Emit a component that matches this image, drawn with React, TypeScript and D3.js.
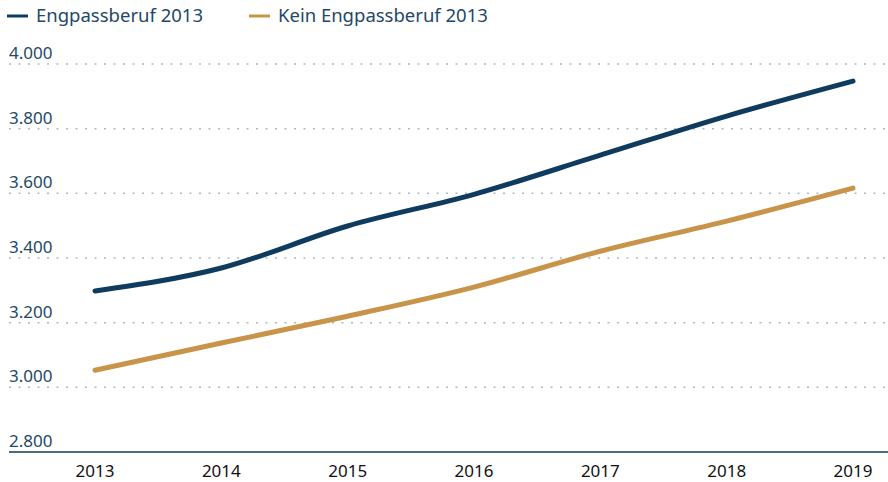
import React from "react";
import * as d3 from "d3";

const years = [2013, 2014, 2015, 2016, 2017, 2018, 2019];
const engpass = [3298, 3369, 3499, 3597, 3718, 3839, 3947];
const keinEngpass = [3053, 3137, 3220, 3310, 3421, 3514, 3616];
const yTicks = [2800, 3000, 3200, 3400, 3600, 3800, 4000];
const seriesNames = ["Engpassberuf 2013", "Kein Engpassberuf 2013"];
const colors = ["#0f3b5f", "#c9944a"];

const W = 888;
const H = 482;
const FONT = "'Source Sans Pro', 'Noto Sans', sans-serif";

export default function App() {
  const x = d3.scalePoint<number>().domain(years).range([95, 853]);
  const y = d3.scaleLinear().domain([2800, 4000]).range([452, 64]);
  const fmt = (v: number) => d3.format(",")(v).replace(/,/g, ".");
  const line = d3
    .line<number>()
    .x((_, i) => x(years[i]) as number)
    .y((d) => y(d))
    .curve(d3.curveMonotoneX);
  const series = [engpass, keinEngpass];
  return (
    <svg
      width={W}
      height={H}
      style={{ position: "absolute", left: 0, top: 0, fontFamily: FONT }}
    >
      {/* legend */}
      <g>
        <line x1={7} x2={28} y1={16} y2={16} stroke={colors[0]} strokeWidth={3} />
        <text x={36} y={22} fontSize={18.5} fill="#1f4868">{seriesNames[0]}</text>
        <line x1={249} x2={270} y1={16} y2={16} stroke={colors[1]} strokeWidth={3} />
        <text x={278} y={22} fontSize={18.5} fill="#1f4868">{seriesNames[1]}</text>
      </g>
      {/* grid */}
      {yTicks.map((t) => (
        <g key={t}>
          {t !== 2800 && (
            <line
              x1={9}
              x2={W}
              y1={y(t)}
              y2={y(t)}
              stroke="#a9b9cb"
              strokeWidth={1.5}
              strokeDasharray="2 7.5"
            />
          )}
          <text x={9} y={y(t) - 5} fontSize={17} fill="#1f4868">
            {fmt(t)}
          </text>
        </g>
      ))}
      <line x1={9} x2={W} y1={y(2800)} y2={y(2800)} stroke="#0f3b5f" strokeWidth={1.5} />
      {years.map((yr) => (
        <text
          key={yr}
          x={x(yr)}
          y={477}
          fontSize={17}
          textAnchor="middle"
          fill="#111"
        >
          {yr}
        </text>
      ))}
      {series.map((s, i) => (
        <path
          key={i}
          d={line(s) || ""}
          fill="none"
          stroke={colors[i]}
          strokeWidth={5}
          strokeLinecap="round"
          strokeLinejoin="round"
        />
      ))}
    </svg>
  );
}
